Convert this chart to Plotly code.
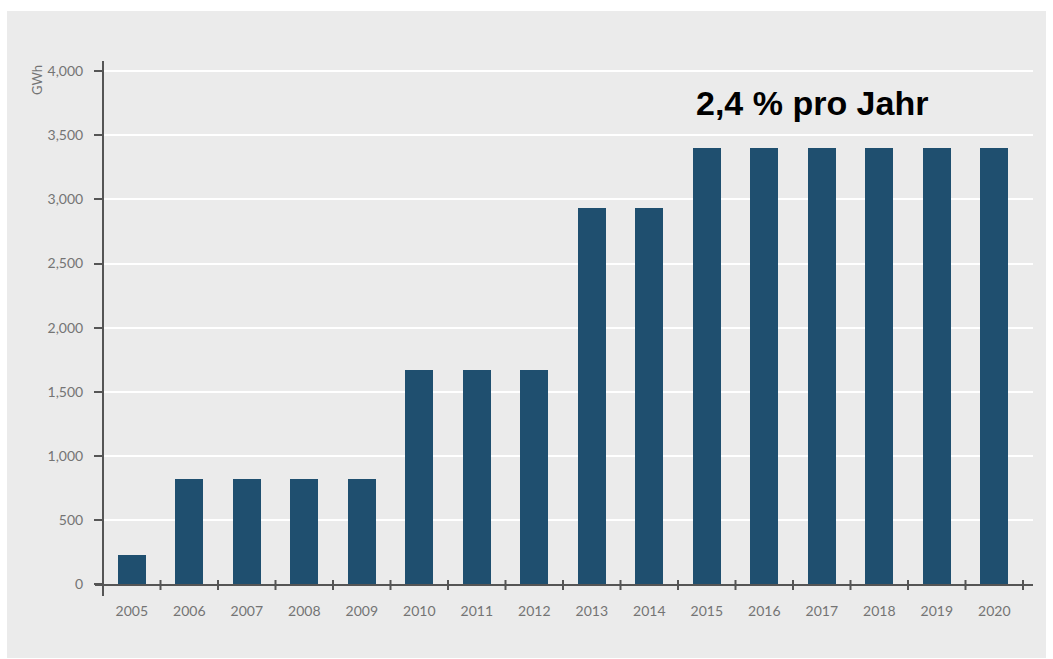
import plotly.graph_objects as go

years = [str(y) for y in range(2005, 2021)]
values = [230, 820, 820, 820, 820, 1670, 1670, 1670, 2930, 2930,
          3400, 3400, 3400, 3400, 3400, 3400]
y_ticks = [0, 500, 1000, 1500, 2000, 2500, 3000, 3500, 4000]
annotation_text = "2,4 % pro Jahr"
unit_label = "GWh"

BAR = "#1f4f6f"
BG = "#ebebeb"
AX = "#555555"
TXT = "#747474"

W, H = 1053, 659
L, R, T, B = 103, 20, 61, 75
pw, ph = W - L - R, H - T - B

def px_x(p):
    return (p - L) / pw

def px_y(p):
    return (H - B - p) / ph

idx = list(range(len(years)))

fig = go.Figure(go.Bar(x=idx, y=values, width=0.49, marker=dict(color=BAR, line=dict(width=0))))

shapes = []
# gray panel
shapes.append(dict(type="rect", xref="paper", yref="paper", x0=px_x(7), x1=px_x(1046),
                   y0=px_y(658), y1=px_y(11), fillcolor=BG, line=dict(width=0), layer="below"))
# y axis line
shapes.append(dict(type="line", xref="paper", yref="paper", x0=0, x1=0,
                   y0=px_y(596), y1=1, line=dict(color=AX, width=2)))
# x axis line
shapes.append(dict(type="line", xref="paper", yref="paper", x0=px_x(95), x1=1,
                   y0=px_y(585), y1=px_y(585), line=dict(color=AX, width=2)))
# x boundary ticks
for k in range(1, len(years) + 1):
    shapes.append(dict(type="line", xref="x", yref="paper", x0=k - 0.5, x1=k - 0.5,
                       y0=px_y(590), y1=px_y(580), line=dict(color=AX, width=2)))

fig.update_layout(
    width=W, height=H,
    margin=dict(l=L, r=R, t=T, b=B, pad=0),
    paper_bgcolor="white",
    plot_bgcolor=BG,
    showlegend=False,
    bargap=0,
    shapes=shapes,
    font=dict(family="Lato", color=TXT, size=14),
    annotations=[
        dict(text=annotation_text, xref="paper", yref="paper", x=px_x(812), y=px_y(103),
             xanchor="center", yanchor="middle", showarrow=False,
             font=dict(family="Liberation Sans", size=34, color="black", weight="bold")),
        dict(text=unit_label, xref="paper", yref="paper", x=px_x(37), y=px_y(80),
             xanchor="center", yanchor="middle", showarrow=False, textangle=-90,
             font=dict(family="Lato", size=13, color=TXT)),
    ],
)

fig.update_xaxes(
    type="linear", range=[-0.5, 15.5 + 10 / 57.5],
    tickmode="array", tickvals=idx, ticktext=years,
    showgrid=False, zeroline=False, showline=False, ticks="",
    ticklabelstandoff=17,
    tickfont=dict(family="Lato", size=14, color=TXT),
)
fig.update_yaxes(
    range=[0, 4080],
    tickmode="array", tickvals=y_ticks, tickformat=",d",
    showgrid=True, gridcolor="white", gridwidth=2,
    zeroline=False, showline=False,
    ticks="outside", ticklen=8, tickwidth=2, tickcolor=AX,
    ticklabelstandoff=8,
    tickfont=dict(family="Lato", size=14, color=TXT),
)

fig.write_html("out.html")
